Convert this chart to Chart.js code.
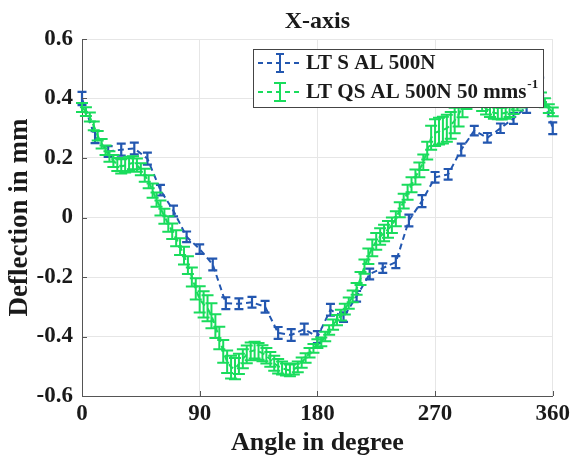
<!DOCTYPE html>
<html lang="en">
<head>
<meta charset="UTF-8" />
<title>X-axis deflection</title>
<script src="https://cdn.jsdelivr.net/npm/chart.js"></script>
<style>
  html, body { margin: 0; padding: 0; background: #fff; }
</style>
</head>
<body>
<canvas id="chart" width="574" height="461"></canvas>
<script>
  // LT S AL 500N, sampled every 10 degrees
  const blueAngles = [0, 10, 20, 30, 40, 50, 60, 70, 80, 90, 100, 110, 120, 130, 140, 150, 160, 170, 180,
    190, 200, 210, 220, 230, 240, 250, 260, 270, 280, 290, 300, 310, 320, 330, 340, 350, 360];
  const blueValues = [0.400, 0.270, 0.222, 0.228, 0.232, 0.198, 0.092, 0.022, -0.065, -0.106, -0.158, -0.288,
    -0.290, -0.285, -0.300, -0.388, -0.395, -0.375, -0.402, -0.310, -0.335, -0.265, -0.190, -0.170, -0.150,
    -0.010, 0.055, 0.135, 0.145, 0.228, 0.292, 0.268, 0.300, 0.333, 0.372, 0.440, 0.300];
  const blueErrors = [0.022, 0.020, 0.018, 0.020, 0.020, 0.020, 0.018, 0.018, 0.018, 0.016, 0.020, 0.020,
    0.018, 0.018, 0.020, 0.020, 0.020, 0.018, 0.020, 0.020, 0.016, 0.018, 0.018, 0.016, 0.020,
    0.020, 0.020, 0.018, 0.018, 0.020, 0.016, 0.016, 0.016, 0.018, 0.020, 0.030, 0.020];

  // LT QS AL 500N 50 mms^-1, sampled every 3 degrees
  const greenAngles = [0, 3, 6, 9, 12, 15, 18, 21, 24, 27, 30, 33, 36, 39, 42, 45, 48, 51, 54, 57,
    60, 63, 66, 69, 72, 75, 78, 81, 84, 87, 90, 93, 96, 99, 102, 105, 108, 111, 114, 117,
    120, 123, 126, 129, 132, 135, 138, 141, 144, 147, 150, 153, 156, 159, 162, 165, 168, 171, 174, 177,
    180, 183, 186, 189, 192, 195, 198, 201, 204, 207, 210, 213, 216, 219, 222, 225, 228, 231, 234, 237,
    240, 243, 246, 249, 252, 255, 258, 261, 264, 267, 270, 273, 276, 279, 282, 285, 288, 291, 294, 297,
    300, 303, 306, 309, 312, 315, 318, 321, 324, 327, 330, 333, 336, 339, 342, 345, 348, 351, 354, 357, 360];
  const greenValues = [0.370, 0.356, 0.338, 0.308, 0.275, 0.248, 0.226, 0.205, 0.190, 0.178,
    0.172, 0.175, 0.180, 0.184, 0.176, 0.162, 0.142, 0.120, 0.090, 0.060,
    0.032, 0.004, -0.022, -0.046, -0.070, -0.098, -0.128, -0.160, -0.200, -0.240,
    -0.275, -0.292, -0.305, -0.330, -0.365, -0.405, -0.450, -0.485, -0.503, -0.508,
    -0.492, -0.475, -0.460, -0.450, -0.446, -0.450, -0.456, -0.465, -0.477, -0.490,
    -0.500, -0.506, -0.511, -0.514, -0.510, -0.502, -0.488, -0.472, -0.455, -0.440,
    -0.424, -0.418, -0.400, -0.378, -0.360, -0.345, -0.328, -0.308, -0.288, -0.265,
    -0.240, -0.205, -0.165, -0.130, -0.102, -0.080, -0.064, -0.052, -0.040, -0.026,
    -0.004, 0.026, 0.055, 0.085, 0.110, 0.136, 0.160, 0.186, 0.225, 0.268,
    0.285, 0.290, 0.294, 0.300, 0.310, 0.326, 0.346, 0.372, 0.395, 0.405,
    0.402, 0.392, 0.378, 0.366, 0.358, 0.352, 0.350, 0.349, 0.352, 0.358,
    0.368, 0.380, 0.390, 0.398, 0.405, 0.410, 0.412, 0.404, 0.386, 0.366, 0.355];
  const greenErrors = [0.015, 0.015, 0.015, 0.015, 0.016, 0.016, 0.016, 0.018, 0.020, 0.022,
    0.024, 0.024, 0.024, 0.022, 0.022, 0.020, 0.022, 0.022, 0.024, 0.024,
    0.025, 0.025, 0.026, 0.026, 0.027, 0.028, 0.030, 0.030, 0.032, 0.036,
    0.044, 0.044, 0.044, 0.042, 0.040, 0.038, 0.038, 0.038, 0.038, 0.036,
    0.034, 0.032, 0.030, 0.030, 0.028, 0.028, 0.027, 0.026, 0.025, 0.025,
    0.024, 0.022, 0.020, 0.020, 0.018, 0.018, 0.017, 0.016, 0.016, 0.015,
    0.015, 0.015, 0.016, 0.016, 0.017, 0.017, 0.018, 0.018, 0.019, 0.020,
    0.020, 0.022, 0.024, 0.026, 0.028, 0.028, 0.028, 0.028, 0.028, 0.026,
    0.025, 0.025, 0.025, 0.025, 0.025, 0.025, 0.025, 0.026, 0.030, 0.040,
    0.045, 0.045, 0.045, 0.045, 0.045, 0.043, 0.040, 0.035, 0.030, 0.025,
    0.022, 0.020, 0.020, 0.020, 0.020, 0.020, 0.020, 0.020, 0.020, 0.020,
    0.020, 0.020, 0.020, 0.020, 0.020, 0.018, 0.018, 0.016, 0.015, 0.015, 0.015];

  const seriesLabels = ['LT S AL 500N', 'LT QS AL 500N 50 mms'];
  const xTicks = [0, 90, 180, 270, 360];
  const yTicks = [-0.6, -0.4, -0.2, 0, 0.2, 0.4, 0.6];

  const BLUE = '#2357b0';
  const GREEN = '#19dc5c';
  const SERIF = "'Liberation Serif', 'Times New Roman', serif";
  const INK = '#1a1a1a';

  function toPoints(xs, ys) {
    return xs.map((x, i) => ({ x: x, y: ys[i] }));
  }

  // vertical error bar with caps, drawn right after each dataset's line
  const errorBars = {
    id: 'errorBars',
    afterDatasetDraw(chart, args) {
      const ds = chart.data.datasets[args.index];
      const { ctx, scales: { x, y } } = chart;
      ctx.save();
      ctx.strokeStyle = ds.borderColor;
      ctx.lineWidth = ds.errWidth;
      ctx.setLineDash([]);
      ds.data.forEach((p, j) => {
        const px = x.getPixelForValue(p.x);
        const top = y.getPixelForValue(p.y + ds.errors[j]);
        const bot = y.getPixelForValue(p.y - ds.errors[j]);
        const c = ds.capWidth / 2;
        ctx.beginPath();
        ctx.moveTo(px, top); ctx.lineTo(px, bot);
        ctx.moveTo(px - c, top); ctx.lineTo(px + c, top);
        ctx.moveTo(px - c, bot); ctx.lineTo(px + c, bot);
        ctx.stroke();
      });
      ctx.restore();
    }
  };

  // inward tick marks, title and the boxed legend
  const decorations = {
    id: 'decorations',
    afterDraw(chart) {
      const { ctx, chartArea: a, scales: { x, y } } = chart;
      ctx.save();
      ctx.strokeStyle = '#555';
      ctx.lineWidth = 1;
      ctx.beginPath();
      xTicks.forEach(v => {
        const px = Math.round(x.getPixelForValue(v)) + 0.5;
        ctx.moveTo(px, a.bottom); ctx.lineTo(px, a.bottom - 5);
      });
      yTicks.forEach(v => {
        const py = Math.round(y.getPixelForValue(v)) + 0.5;
        ctx.moveTo(a.left, py); ctx.lineTo(a.left + 5, py);
      });
      ctx.stroke();

      ctx.fillStyle = INK;
      ctx.font = 'bold 24px ' + SERIF;
      ctx.textAlign = 'center';
      ctx.textBaseline = 'middle';
      ctx.fillText('X-axis', (a.left + a.right) / 2, 22);

      // legend
      const bx = 253, by = 49, bw = 290, bh = 58;
      ctx.fillStyle = '#fff';
      ctx.fillRect(bx, by, bw, bh);
      ctx.strokeStyle = '#444';
      ctx.strokeRect(bx + 0.5, by + 0.5, bw, bh);

      const rows = [
        { color: BLUE, y: 63, cap: 8, label: seriesLabels[0], sup: '' },
        { color: GREEN, y: 92, cap: 12, label: seriesLabels[1], sup: '-1' }
      ];
      rows.forEach(r => {
        ctx.strokeStyle = r.color;
        ctx.lineWidth = 2;
        ctx.setLineDash([5, 4]);
        ctx.beginPath();
        ctx.moveTo(258, r.y); ctx.lineTo(302, r.y);
        ctx.stroke();
        ctx.setLineDash([]);
        ctx.beginPath();
        ctx.moveTo(280, r.y - 9); ctx.lineTo(280, r.y + 9);
        ctx.moveTo(280 - r.cap / 2, r.y - 9); ctx.lineTo(280 + r.cap / 2, r.y - 9);
        ctx.moveTo(280 - r.cap / 2, r.y + 9); ctx.lineTo(280 + r.cap / 2, r.y + 9);
        ctx.stroke();

        ctx.fillStyle = INK;
        ctx.textAlign = 'left';
        ctx.textBaseline = 'middle';
        ctx.font = 'bold 21px ' + SERIF;
        ctx.fillText(r.label, 306, r.y + 1);
        if (r.sup) {
          const w = ctx.measureText(r.label).width;
          ctx.font = 'bold 13px ' + SERIF;
          ctx.fillText(r.sup, 306 + w + 1, r.y - 7);
        }
      });
      ctx.restore();
    }
  };

  const tickFont = { family: SERIF, size: 23, weight: 'bold' };

  new Chart(document.getElementById('chart'), {
    type: 'line',
    data: {
      datasets: [
        {
          label: seriesLabels[0],
          data: toPoints(blueAngles, blueValues),
          errors: blueErrors,
          borderColor: BLUE,
          borderWidth: 2,
          borderDash: [6, 4],
          pointRadius: 0,
          errWidth: 2.2,
          capWidth: 9,
          order: 1
        },
        {
          label: seriesLabels[1],
          data: toPoints(greenAngles, greenValues),
          errors: greenErrors,
          borderColor: GREEN,
          borderWidth: 2,
          borderDash: [6, 4],
          pointRadius: 0,
          errWidth: 2,
          capWidth: 12,
          order: 0
        }
      ]
    },
    options: {
      responsive: false,
      animation: false,
      layout: { padding: { top: 39, right: 18, left: 0, bottom: 0 } },
      plugins: {
        legend: { display: false },
        tooltip: { enabled: false },
        title: { display: false }
      },
      scales: {
        x: {
          type: 'linear',
          min: 0,
          max: 360,
          afterFit(s) { s.height = 65; },
          afterBuildTicks(s) { s.ticks = xTicks.map(v => ({ value: v })); },
          ticks: { font: tickFont, color: INK, padding: 4, maxRotation: 0 },
          grid: { color: '#e6e6e6', drawTicks: false },
          border: { color: '#555' },
          title: {
            display: true, text: 'Angle in degree', color: INK,
            font: { family: SERIF, size: 26, weight: 'bold' },
            padding: { top: 0, bottom: 2 }
          }
        },
        y: {
          min: -0.6,
          max: 0.6,
          afterFit(s) { s.width = 82; },
          afterBuildTicks(s) { s.ticks = yTicks.map(v => ({ value: v })); },
          ticks: {
            font: tickFont,
            color: INK,
            padding: 9,
            callback: v => (Math.abs(v) < 1e-9 ? '0' : v.toFixed(1))
          },
          grid: { color: '#e6e6e6', drawTicks: false },
          border: { color: '#555' },
          title: {
            display: true, text: 'Deflection in mm', color: INK,
            font: { family: SERIF, size: 27, weight: 'bold' },
            padding: { top: 4, bottom: 0 }
          }
        }
      }
    },
    plugins: [errorBars, decorations]
  });
</script>
</body>
</html>
